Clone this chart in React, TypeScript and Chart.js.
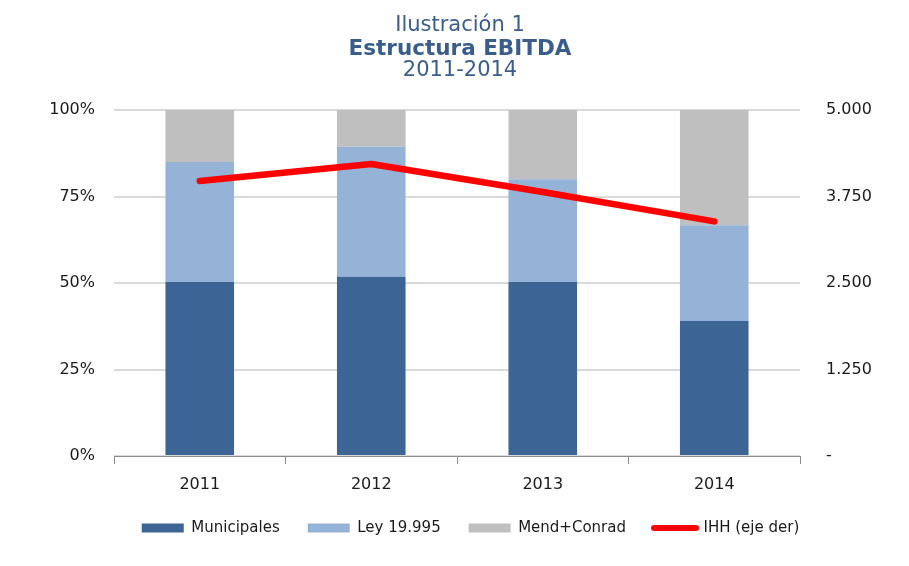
import React, { useEffect, useRef } from "react";
import { Chart, registerables } from "chart.js";

Chart.register(...registerables);

const categories = ["2011", "2012", "2013", "2014"];
const municipales = [50.3, 51.8, 50.3, 39.0];
const ley19995 = [34.7, 37.6, 29.7, 27.7];
const mendConrad = [15.0, 10.6, 20.0, 33.3];
const ihh = [3975, 4220, 3815, 3390];
const seriesLabels = ["Municipales", "Ley 19.995", "Mend+Conrad", "IHH (eje der)"];
const titleLines = ["Ilustración 1", "Estructura EBITDA", "2011-2014"];

const FONT = '"DejaVu Sans", Verdana, sans-serif';
const TITLE_COLOR = "#3a5d8c";
const TEXT_COLOR = "#1a1a1a";

const fmtRight = (v: number) => {
  if (v === 0) return "-";
  const th = Math.floor(v / 1000);
  const rest = String(Math.round(v % 1000)).padStart(3, "0");
  return th > 0 ? `${th}.${rest}` : String(v);
};

const titlePlugin = {
  id: "customTitle",
  afterDraw(chart: any) {
    const ctx = chart.ctx;
    const { left, right } = chart.chartArea;
    const cx = (left + right) / 2 + 3;
    ctx.save();
    ctx.fillStyle = TITLE_COLOR;
    ctx.textAlign = "center";
    ctx.textBaseline = "alphabetic";
    ctx.font = `21px ${FONT}`;
    ctx.fillText(titleLines[0], cx, 23);
    ctx.font = `bold 21.5px ${FONT}`;
    ctx.fillText(titleLines[1], cx, 47);
    ctx.font = `21px ${FONT}`;
    ctx.fillText(titleLines[2], cx, 67.7);
    ctx.restore();
  },
};

export default function App() {
  const ref = useRef<HTMLCanvasElement | null>(null);

  useEffect(() => {
    if (!ref.current) return;
    const chart = new Chart(ref.current, {
      type: "bar",
      data: {
        labels: categories,
        datasets: [
          {
            type: "bar",
            label: seriesLabels[0],
            data: municipales,
            backgroundColor: "#3c6495",
            yAxisID: "y",
            barPercentage: 0.4,
            categoryPercentage: 1,
          },
          {
            type: "bar",
            label: seriesLabels[1],
            data: ley19995,
            backgroundColor: "#95b3d7",
            yAxisID: "y",
            barPercentage: 0.4,
            categoryPercentage: 1,
          },
          {
            type: "bar",
            label: seriesLabels[2],
            data: mendConrad,
            backgroundColor: "#bfbfbf",
            yAxisID: "y",
            barPercentage: 0.4,
            categoryPercentage: 1,
          },
          {
            type: "line",
            label: seriesLabels[3],
            data: ihh,
            borderColor: "#ff0000",
            backgroundColor: "#ff0000",
            borderWidth: 6.5,
            pointRadius: 0,
            tension: 0,
            borderCapStyle: "round",
            borderJoinStyle: "round",
            yAxisID: "y1",
            order: -1,
          } as any,
        ],
      },
      options: {
        animation: false,
        responsive: true,
        maintainAspectRatio: false,
        layout: { padding: { top: 102, left: 32, right: 0, bottom: 12.5 } },
        plugins: {
          title: { display: false },
          tooltip: { enabled: false },
          legend: {
            position: "bottom",
            labels: {
              usePointStyle: true,
              pointStyleWidth: 42,
              boxHeight: 9,
              padding: 28,
              color: TEXT_COLOR,
              font: { family: FONT, size: 15 },
              generateLabels: (c: any) =>
                c.data.datasets.map((ds: any, i: number) => {
                  const isLine = ds.type === "line";
                  return {
                    text: ds.label,
                    datasetIndex: i,
                    fillStyle: isLine ? ds.borderColor : ds.backgroundColor,
                    strokeStyle: isLine ? ds.borderColor : ds.backgroundColor,
                    lineWidth: isLine ? 6 : 0,
                    lineCap: "round",
                    pointStyle: isLine ? "line" : "rect",
                    hidden: false,
                    fontColor: TEXT_COLOR,
                  };
                }),
            },
          },
        },
        scales: {
          x: {
            stacked: true,
            grid: {
              display: true,
              drawOnChartArea: false,
              drawTicks: true,
              tickLength: 8,
              color: "#8c8c8c",
              lineWidth: 1,
              offset: true,
            },
            border: { display: true, color: "#8c8c8c", width: 1 },
            ticks: { color: TEXT_COLOR, font: { family: FONT, size: 16 }, padding: 11 },
            afterFit: (s: any) => {
              s.height = 36.5;
            },
          },
          y: {
            stacked: true,
            position: "left",
            min: 0,
            max: 100,
            ticks: {
              stepSize: 25,
              callback: (v: any) => `${v}%`,
              color: TEXT_COLOR,
              font: { family: FONT, size: 16 },
              padding: 19,
            },
            grid: { color: "#d9d9d9", lineWidth: 2, drawTicks: false },
            border: { display: false },
            afterFit: (s: any) => {
              s.width = 74;
            },
          },
          y1: {
            position: "right",
            min: 0,
            max: 5000,
            ticks: {
              stepSize: 1250,
              callback: (v: any) => fmtRight(Number(v)),
              color: TEXT_COLOR,
              font: { family: FONT, size: 16 },
              padding: 26,
            },
            grid: { drawOnChartArea: false, drawTicks: false },
            border: { display: false },
            afterFit: (s: any) => {
              s.width = 101;
            },
          },
        },
      },
      plugins: [titlePlugin],
    } as any);
    return () => chart.destroy();
  }, []);

  return (
    <div style={{ position: "relative", width: 893, height: 550 }}>
      <canvas ref={ref} />
    </div>
  );
}
